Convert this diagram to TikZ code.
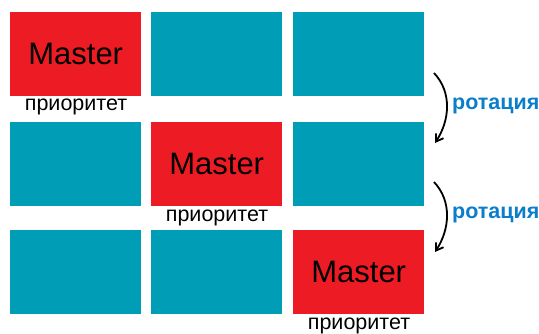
\documentclass[tikz,border=0pt]{standalone}
\usepackage{fontspec}
\setmainfont{Liberation Sans}
\usetikzlibrary{arrows.meta}
\definecolor{mred}{HTML}{ED1C24}
\definecolor{mteal}{HTML}{009DB6}
\definecolor{mblue}{HTML}{0A7DCB}
\tikzset{
  cell/.style={fill=mteal, draw=none, minimum width=131pt, minimum height=84pt, inner sep=0pt, anchor=north west},
  master/.style={cell, fill=mred, font=\fontsize{31}{31}\selectfont},
  prio/.style={font=\fontsize{21.5}{21.5}\selectfont, inner sep=0pt},
  rot/.style={font=\bfseries\fontsize{21.5}{21.5}\selectfont, text=mblue, inner sep=0pt, anchor=west},
  rotarrow/.style={line width=1.8pt, -{Straight Barb[length=7pt,width=9pt]}}
}
\begin{document}
\begin{tikzpicture}[x=1pt,y=-1pt]
\useasboundingbox (0,0) rectangle (539,333);
% row 1
\node[master] (a1) at (10,12) {Master};
\node[cell] (a2) at (151,12) {};
\node[cell] (a3) at (293,12) {};
% row 2
\node[cell] (b1) at (10,122) {};
\node[master] (b2) at (151,122) {Master};
\node[cell] (b3) at (293,122) {};
% row 3
\node[cell] (c1) at (10,230) {};
\node[cell] (c2) at (151,230) {};
\node[master] (c3) at (293,230) {Master};
% labels
\node[prio] (p1) at (76,107) {приоритет};
\node[prio] (p2) at (217,218) {приоритет};
\node[prio] (p3) at (359,326) {приоритет};
% rotation arrows
\coordinate (r1s) at (434,73);
\coordinate (r1e) at (435,143);
\coordinate (r2s) at (434,182);
\coordinate (r2e) at (435,252);
\draw[rotarrow] (r1s) .. controls (452,92) and (450,120) .. (r1e);
\draw[rotarrow] (r2s) .. controls (452,201) and (450,229) .. (r2e);
\node[rot] (t1) at (452,106) {ротация};
\node[rot] (t2) at (452,215) {ротация};
\end{tikzpicture}
\end{document}
